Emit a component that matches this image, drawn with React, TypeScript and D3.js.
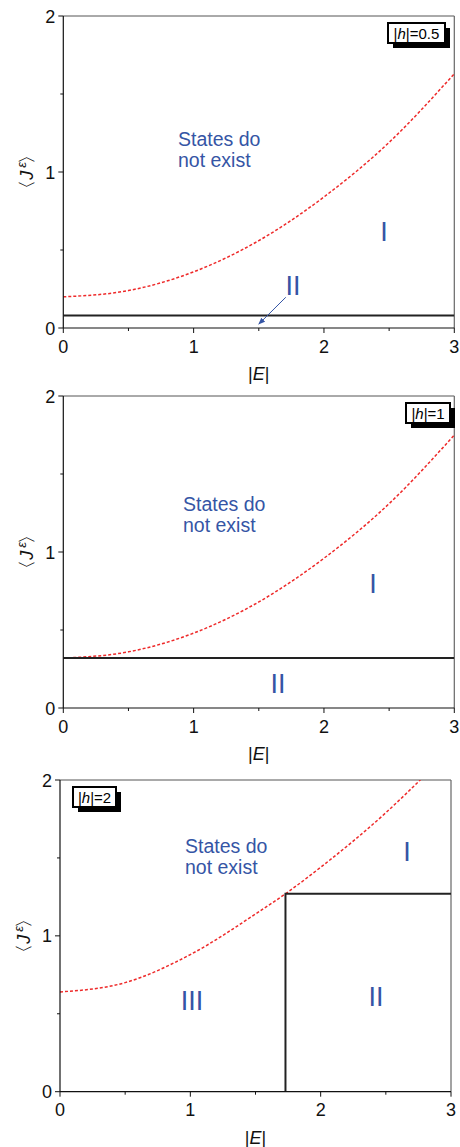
import React from "react";
import * as d3 from "d3";

// Panel 1 (|h| = 0.5)
const p1Boundary: [number, number][] = [[0, 0.2], [0.5, 0.24], [1, 0.36], [1.5, 0.56], [2, 0.84], [2.5, 1.19], [3, 1.63]];
const p1Lower: [number, number][] = [[0, 0.08], [3, 0.08]];
// Panel 2 (|h| = 1)
const p2Boundary: [number, number][] = [[0, 0.32], [0.5, 0.36], [1, 0.48], [1.5, 0.68], [2, 0.96], [2.5, 1.31], [3, 1.75]];
const p2Lower: [number, number][] = [[0, 0.32], [3, 0.32]];
// Panel 3 (|h| = 2)
const p3Boundary: [number, number][] = [[0, 0.64], [0.5, 0.7], [1, 0.88], [1.5, 1.14], [1.73, 1.27], [2, 1.44], [2.5, 1.79], [2.8, 2.03]];
const p3Box: [number, number][] = [[1.73, 0], [1.73, 1.27], [3, 1.27]];

const xTicks = [0, 1, 2, 3];
const xMinor = [0.5, 1.5, 2.5];
const yTicks = [0, 1, 2];
const yMinor = [0.5, 1.5];

const FONT = "Arial, 'Liberation Sans', Helvetica, sans-serif";
const BLUE = "#3555a5";
const RED = "#ee2a2a";

type Label = { text: string; x: number; y: number; size: number };

type PanelProps = {
  left: number; right: number; top: number; bottom: number;
  boundary: [number, number][];
  lines: [number, number][][];
  hLabel: string; legendBox: { x: number; y: number; w: number };
  states: { x: number; y: number };
  labels: Label[];
  arrow?: [[number, number], [number, number]];
  id: string;
};

function Panel(p: PanelProps) {
  const x = d3.scaleLinear().domain([0, 3]).range([p.left, p.right]);
  const y = d3.scaleLinear().domain([0, 2]).range([p.bottom, p.top]);
  const line = d3.line<[number, number]>().x(d => x(d[0])).y(d => y(d[1]));
  const curve = d3.line<[number, number]>().x(d => x(d[0])).y(d => y(d[1])).curve(d3.curveMonotoneX);
  const lb = p.legendBox;
  return (
    <g fontFamily={FONT}>
      <defs>
        <clipPath id={"clip" + p.id}>
          <rect x={p.left} y={p.top} width={p.right - p.left} height={p.bottom - p.top} />
        </clipPath>
      </defs>
      {/* frame */}
      <line x1={p.left} x2={p.right} y1={p.top} y2={p.top} stroke="#555" strokeWidth={1} />
      <line x1={p.right} x2={p.right} y1={p.top} y2={p.bottom} stroke="#666" strokeWidth={1.2} />
      <g clipPath={`url(#clip${p.id})`}>
        <path d={curve(p.boundary) || ""} fill="none" stroke={RED} strokeWidth={1.5} strokeDasharray="3,2" />
        {p.lines.map((l, i) => (
          <path key={i} d={line(l) || ""} fill="none" stroke="#222" strokeWidth={2} />
        ))}
      </g>
      <line x1={p.left} x2={p.left} y1={p.top} y2={p.bottom} stroke="#111" strokeWidth={1.2} />
      <line x1={p.left} x2={p.right} y1={p.bottom} y2={p.bottom} stroke="#111" strokeWidth={1.2} />
      {xTicks.map(t => (
        <g key={"xt" + t}>
          <line x1={x(t)} x2={x(t)} y1={p.bottom} y2={p.bottom + 5} stroke="#111" strokeWidth={1} />
          <text x={x(t)} y={p.bottom + 24.5} fontSize={18} textAnchor="middle" fill="#111">{t}</text>
        </g>
      ))}
      {xMinor.map(t => (
        <line key={"xm" + t} x1={x(t)} x2={x(t)} y1={p.bottom} y2={p.bottom + 3} stroke="#111" strokeWidth={1} />
      ))}
      {yTicks.map(t => (
        <g key={"yt" + t}>
          <line x1={p.left - 5} x2={p.left} y1={y(t)} y2={y(t)} stroke="#111" strokeWidth={1} />
          <text x={p.left - 8} y={y(t) + 6.5} fontSize={18} textAnchor="end" fill="#111">{t}</text>
        </g>
      ))}
      {yMinor.map(t => (
        <line key={"ym" + t} x1={p.left - 3} x2={p.left} y1={y(t)} y2={y(t)} stroke="#111" strokeWidth={1} />
      ))}
      {/* x label */}
      <text x={(p.left + p.right) / 2} y={p.bottom + 52} fontSize={18} textAnchor="middle" fill="#111">
        |<tspan fontStyle="italic">E</tspan>|
      </text>
      {/* y label */}
      <text transform={`translate(${p.left - 30},${(p.top + p.bottom) / 2}) rotate(-90)`} fontSize={18} textAnchor="middle" fill="#111">
        〈<tspan fontStyle="italic">J</tspan><tspan fontSize={13} dx={3} dy={-7} fontStyle="italic">ε</tspan><tspan dx={-2} dy={7}>〉</tspan>
      </text>
      {/* legend box */}
      <rect x={lb.x + 5} y={lb.y + 5} width={lb.w} height={20} fill="#000" />
      <rect x={lb.x} y={lb.y} width={lb.w} height={20} fill="#fff" stroke="#000" strokeWidth={2} />
      <text x={lb.x + lb.w / 2} y={lb.y + 15.5} fontSize={15} textAnchor="middle" fill="#000">
        |<tspan fontStyle="italic">h</tspan>|={p.hLabel}
      </text>
      {/* states text */}
      <text x={p.states.x} y={p.states.y} fontSize={19.5} fill={BLUE}>States do</text>
      <text x={p.states.x} y={p.states.y + 21} fontSize={19.5} fill={BLUE}>not exist</text>
      {p.labels.map((l, i) => (
        <text key={i} x={l.x} y={l.y} fontSize={l.size} fill={BLUE} textAnchor="middle">{l.text}</text>
      ))}
      {p.arrow && (
        <g>
          <defs>
            <marker id={"arr" + p.id} viewBox="0 0 10 10" refX={9} refY={5} markerWidth={7} markerHeight={7} orient="auto">
              <path d="M0,1 L10,5 L0,9 Z" fill={BLUE} />
            </marker>
          </defs>
          <line x1={x(p.arrow[0][0])} y1={y(p.arrow[0][1])} x2={x(p.arrow[1][0])} y2={y(p.arrow[1][1])}
            stroke={BLUE} strokeWidth={1} markerEnd={`url(#arr${p.id})`} />
        </g>
      )}
    </g>
  );
}

export default function App() {
  return (
    <svg width={460} height={1147} style={{ position: "absolute", left: 0, top: 0, background: "#fff" }}>
      <rect width={460} height={1147} fill="#fff" />
      <Panel id="a" left={63.3} right={454.3} top={16} bottom={328}
        boundary={p1Boundary} lines={[p1Lower]} hLabel="0.5"
        legendBox={{ x: 388, y: 23, w: 57 }}
        states={{ x: 178, y: 146 }}
        labels={[{ text: "I", x: 384, y: 241, size: 27 }, { text: "II", x: 293, y: 295, size: 27 }]}
        arrow={[[1.707, 0.197], [1.5, 0.025]]} />
      <Panel id="b" left={63.3} right={454.3} top={396} bottom={708}
        boundary={p2Boundary} lines={[p2Lower]} hLabel="1"
        legendBox={{ x: 406, y: 403, w: 44 }}
        states={{ x: 183, y: 511 }}
        labels={[{ text: "I", x: 373, y: 593, size: 27 }, { text: "II", x: 278, y: 693, size: 27 }]} />
      <Panel id="c" left={60} right={451} top={780} bottom={1091.7}
        boundary={p3Boundary} lines={[p3Box]} hLabel="2"
        legendBox={{ x: 73, y: 787, w: 43 }}
        states={{ x: 185, y: 853 }}
        labels={[{ text: "I", x: 407, y: 861, size: 27 }, { text: "II", x: 376, y: 1006, size: 27 }, { text: "III", x: 192, y: 1010, size: 27 }]} />
    </svg>
  );
}
